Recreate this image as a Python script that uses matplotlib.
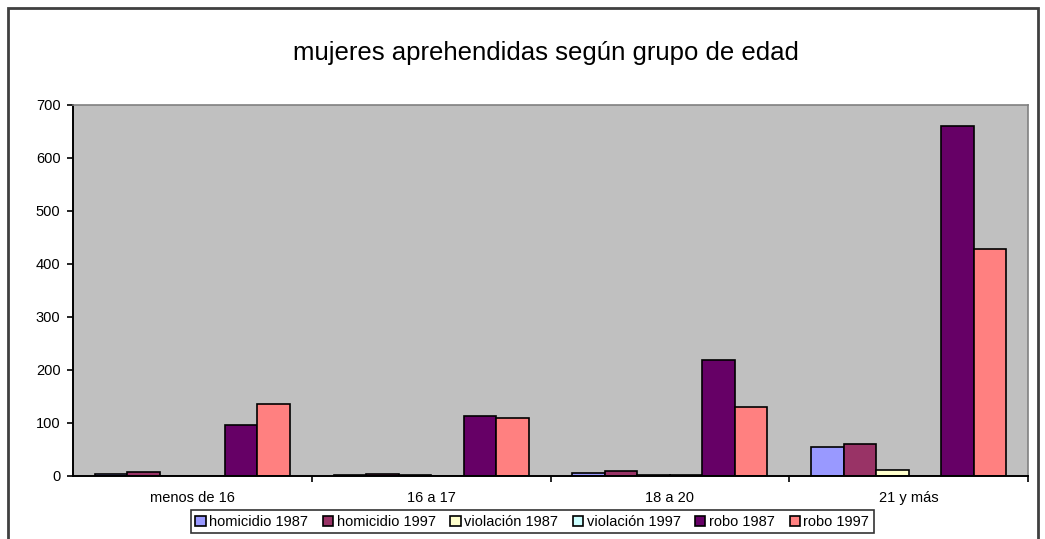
import numpy as np
import matplotlib
matplotlib.use("Agg")
import matplotlib.pyplot as plt
from matplotlib.patches import Rectangle

plt.rcParams['font.family'] = ['Liberation Sans', 'DejaVu Sans']

categorias = ["menos de 16", "16 a 17", "18 a 20", "21 y más"]
series = ["homicidio 1987", "homicidio 1997", "violación 1987",
          "violación 1997", "robo 1987", "robo 1997"]
homicidio_1987 = [3, 2, 5, 55]
homicidio_1997 = [8, 4, 10, 60]
violacion_1987 = [0, 2, 2, 12]
violacion_1997 = [0, 0, 2, 0]
robo_1987 = [97, 113, 218, 660]
robo_1997 = [135, 110, 130, 428]
valores = [homicidio_1987, homicidio_1997, violacion_1987,
           violacion_1997, robo_1987, robo_1997]
colores = ["#9999FF", "#993366", "#FFFFCC", "#CCFFFF", "#660066", "#FF8080"]

fig = plt.figure(figsize=(10.45, 5.39), dpi=100)
ax = fig.add_axes([0.0699, 0.1169, 0.9138, 0.6883])
ax.set_facecolor("#C0C0C0")

x = np.arange(len(categorias))
ancho = 0.136
for i, (nombre, vals, col) in enumerate(zip(series, valores, colores)):
    ax.bar(x + (i - 2.5) * ancho, vals, width=ancho, color=col,
           edgecolor="black", linewidth=1.2, label=nombre)

ax.set_xlim(-0.5, len(categorias) - 0.5)
ax.set_ylim(0, 700)
ax.set_yticks(range(0, 701, 100))
ax.set_xticks(x)
ax.set_xticklabels(categorias, fontsize=10.5)
ax.tick_params(axis="x", length=0, pad=11)
ax.set_xticks(np.arange(0.5, len(categorias), 1), minor=True)
ax.tick_params(axis="x", which="minor", length=4, width=1.2, direction="out")
ax.tick_params(axis="y", labelsize=10.5, length=4, width=1.2, direction="out",
               pad=5)

for s in ["left", "bottom"]:
    ax.spines[s].set_color("black")
    ax.spines[s].set_linewidth(1.4)
for s in ["top", "right"]:
    ax.spines[s].set_color("#808080")
    ax.spines[s].set_linewidth(1.2)

fig.text(0.522, 0.902, "mujeres aprehendidas según grupo de edad",
         ha="center", va="center", fontsize=18.5)

leg = ax.legend(loc="upper center", bbox_to_anchor=(0.481, -0.093), ncol=6,
                fontsize=10.5, frameon=True, fancybox=False, handlelength=0.7,
                handleheight=0.7, handletextpad=0.25, columnspacing=1.0,
                borderpad=0.3, borderaxespad=0)
leg.get_frame().set_edgecolor("black")
leg.get_frame().set_linewidth(1.2)

# marco exterior del gráfico
fig.patches.append(Rectangle((0.008, -0.05), 0.985, 1.035,
                             transform=fig.transFigure, fill=False,
                             edgecolor="#404040", linewidth=2))

fig.savefig("out.png", dpi=100)
